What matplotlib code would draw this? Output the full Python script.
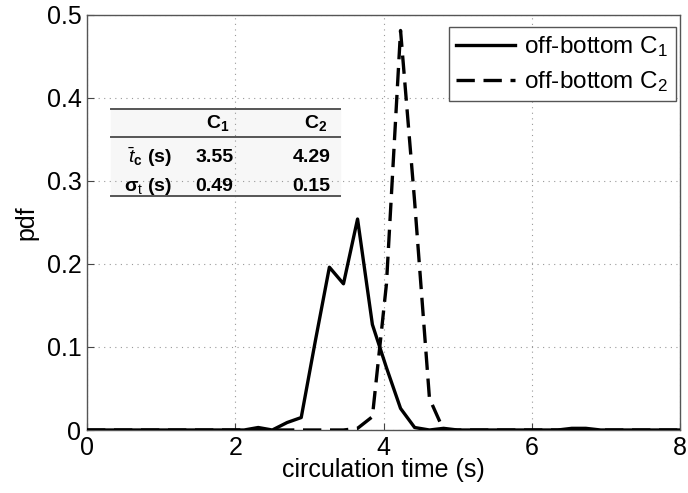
import matplotlib
matplotlib.use('Agg')
import matplotlib.pyplot as plt

plt.rcParams['font.family'] = ['Liberation Sans', 'DejaVu Sans']
plt.rcParams['mathtext.fontset'] = 'custom'
plt.rcParams['mathtext.rm'] = 'Liberation Sans'
plt.rcParams['mathtext.it'] = 'Liberation Sans:italic'
plt.rcParams['mathtext.bf'] = 'Liberation Sans:bold'

# pdf of circulation time
t_c1 = [0.0, 2.12, 2.31, 2.50, 2.70, 2.89, 3.08, 3.27, 3.46, 3.65, 3.85, 4.04,
        4.23, 4.42, 4.62, 4.81, 5.00, 6.35, 6.54, 6.73, 6.93, 8.0]
pdf_c1 = [0.0, 0.0, 0.003, 0.0, 0.009, 0.015, 0.107, 0.196, 0.176, 0.254, 0.127, 0.075,
          0.026, 0.003, 0.0, 0.002, 0.0, 0.0, 0.002, 0.002, 0.0, 0.0]

t_c2 = [0.0, 3.46, 3.65, 3.85, 4.04, 4.23, 4.42, 4.62, 4.81, 8.0]
pdf_c2 = [0.0, 0.0, 0.002, 0.016, 0.176, 0.481, 0.275, 0.038, 0.0, 0.0]

legend_labels = ['off-bottom C$_1$', 'off-bottom C$_2$']

# inset table
col_heads = [r'$\mathbf{C_1}$', r'$\mathbf{C_2}$']
row_heads = [r'$\bar{\mathbf{\it{t}}}_{\mathbf{c}}$ (s)', r'σ$_{\rm t}$ (s)']
mean_t = ['3.55', '4.29']
std_t = ['0.49', '0.15']

fig = plt.figure(figsize=(6.88, 4.93), dpi=100)
ax = fig.add_axes([87 / 688, 63 / 493, 593 / 688, 415.3 / 493])

ax.plot(t_c2, pdf_c2, color='black', linewidth=2.4, linestyle=(0, (5.5, 2.6)),
        label=legend_labels[1], zorder=3)
ax.plot(t_c1, pdf_c1, color='black', linewidth=2.4, label=legend_labels[0], zorder=4)

ax.set_xlim(0, 8)
ax.set_ylim(0, 0.5)
ax.set_xticks([0, 2, 4, 6, 8])
ax.set_yticks([0, 0.1, 0.2, 0.3, 0.4, 0.5])
ax.set_yticklabels(['0', '0.1', '0.2', '0.3', '0.4', '0.5'])
ax.tick_params(direction='in', labelsize=18, length=5, color='#444444')
ax.tick_params(axis='x', pad=4)
ax.tick_params(axis='y', pad=4)
ax.grid(True, linestyle=(0, (1, 4)), color='#999999', linewidth=0.8)
for s in ax.spines.values():
    s.set_color('#555555')
    s.set_linewidth(1.0)
ax.set_xlabel('circulation time (s)', fontsize=18, labelpad=-1)
ax.set_ylabel('pdf', fontsize=18, labelpad=6)

h, l = ax.get_legend_handles_labels()
leg = ax.legend(h[::-1], l[::-1], loc='upper right', bbox_to_anchor=(0.993, 0.970),
                fontsize=17.5, fancybox=False, edgecolor='#555555', framealpha=1,
                borderaxespad=0, handlelength=2.4, handletextpad=0.4,
                labelspacing=0.4, borderpad=0.3)
leg.get_frame().set_linewidth(1.0)

# table inside the axes (axes fraction coords)
tr = ax.transAxes
x0, x1 = 0.040, 0.4266
ax.fill_between([x0, x1], 0.5635, 0.7733, transform=tr, color='#f7f7f7', zorder=1)
for yl in [0.7733, 0.7062, 0.5635]:
    ax.plot([x0, x1], [yl, yl], transform=tr, color='#555555', linewidth=1.4, zorder=2)
col_x = [0.221, 0.385]
for xc, txt in zip(col_x, col_heads):
    ax.text(xc, 0.739, txt, transform=tr, ha='center', va='center', fontsize=14,
            fontweight='bold')
row_y = [0.656, 0.586]
for yr, txt in zip(row_y, row_heads):
    ax.text(0.143, yr, txt, transform=tr, ha='right', va='center', fontsize=14,
            fontweight='bold')
for xc, v in zip(col_x, mean_t):
    ax.text(xc - 0.006, row_y[0], v, transform=tr, ha='center', va='center',
            fontsize=14, fontweight='bold')
for xc, v in zip(col_x, std_t):
    ax.text(xc - 0.006, row_y[1], v, transform=tr, ha='center', va='center',
            fontsize=14, fontweight='bold')

fig.savefig('out.png', dpi=100)
